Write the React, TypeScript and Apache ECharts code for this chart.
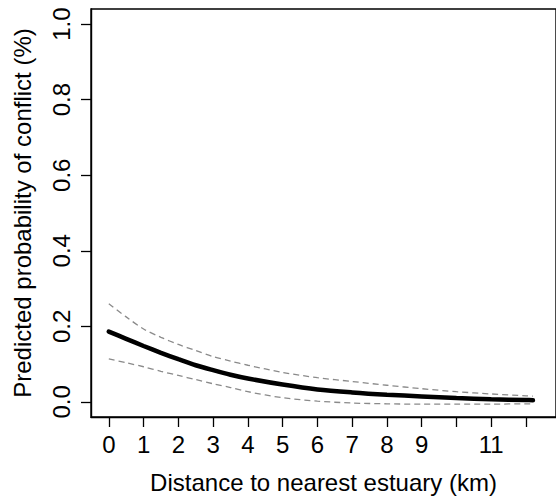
import React, { useEffect, useRef } from "react";
import * as echarts from "echarts";

const distance = [0, 0.5, 1, 1.5, 2, 2.5, 3, 3.5, 4, 5, 6, 7, 8, 9, 10, 11, 12, 12.2];
const fitted = [0.186, 0.167, 0.148, 0.130, 0.113, 0.097, 0.084, 0.072, 0.062, 0.046, 0.033, 0.025, 0.019, 0.0145, 0.010, 0.007, 0.005, 0.0045];
const upperCI = [0.260, 0.225, 0.193, 0.171, 0.152, 0.136, 0.120, 0.108, 0.097, 0.078, 0.064, 0.054, 0.044, 0.035, 0.027, 0.021, 0.016, 0.015];
const lowerCI = [0.114, 0.1035, 0.093, 0.081, 0.070, 0.059, 0.048, 0.038, 0.027, 0.011, 0.002, -0.003, -0.005, -0.006, -0.006, -0.006, -0.005, -0.005];

const xTicks = [0, 1, 2, 3, 4, 5, 6, 7, 8, 9, 10, 11, 12];
const xTickLabels = [0, 1, 2, 3, 4, 5, 6, 7, 8, 9, 11];
const yTicks = [0, 0.2, 0.4, 0.6, 0.8, 1.0];

const xTitle = "Distance to nearest estuary (km)";
const yTitle = "Predicted probability of conflict (%)";

const FONT = "'Liberation Sans', Arial, Helvetica, sans-serif";

export default function App() {
  const ref = useRef<HTMLDivElement>(null);
  useEffect(() => {
    if (!ref.current) return;
    const chart = echarts.init(ref.current, undefined, { renderer: "svg" });
    const pair = (ys: number[]) => distance.map((x, i) => [x, ys[i]]);
    const pxPerUnit = 35.14;
    const gridLeft = 91;
    const gridWidth = 470;
    const xMin = -(109 - gridLeft) / pxPerUnit;
    const xMax = xMin + gridWidth / pxPerUnit;
    chart.setOption({
      animation: false,
      backgroundColor: "#ffffff",
      grid: {
        left: gridLeft,
        top: 9,
        width: gridWidth,
        height: 408,
        show: true,
        borderColor: "#000",
        borderWidth: 1.4,
        backgroundColor: "transparent",
      },
      xAxis: {
        type: "value",
        min: xMin,
        max: xMax,
        name: xTitle,
        nameLocation: "middle",
        nameGap: 53,
        nameTextStyle: { fontFamily: FONT, fontSize: 24, color: "#000" },
        axisLine: { show: true, onZero: false, lineStyle: { color: "#000", width: 1.4 } },
        axisTick: {
          show: true,
          length: 10,
          customValues: xTicks,
          lineStyle: { color: "#000", width: 1.3 },
        },
        axisLabel: {
          show: true,
          customValues: xTickLabels,
          margin: 15,
          fontFamily: FONT,
          fontSize: 24,
          color: "#000",
        },
        splitLine: { show: false },
      },
      yAxis: {
        type: "value",
        min: -0.04,
        max: 1.04,
        name: yTitle,
        nameLocation: "middle",
        nameGap: 57,
        nameRotate: 90,
        nameTextStyle: { fontFamily: FONT, fontSize: 24, color: "#000" },
        axisLine: { show: true, onZero: false, lineStyle: { color: "#000", width: 1.4 } },
        axisTick: {
          show: true,
          length: 10,
          customValues: yTicks,
          lineStyle: { color: "#000", width: 1.3 },
        },
        axisLabel: {
          show: true,
          customValues: yTicks,
          rotate: 90,
          margin: 18,
          fontFamily: FONT,
          fontSize: 24,
          color: "#000",
          formatter: (v: number) => v.toFixed(1),
        },
        splitLine: { show: false },
      },
      series: [
        {
          type: "line",
          data: pair(upperCI),
          showSymbol: false,
          smooth: 0.3,
          lineStyle: { color: "#8a8a8a", width: 1.3, type: [6, 4] },
        },
        {
          type: "line",
          data: pair(lowerCI),
          showSymbol: false,
          smooth: 0.3,
          lineStyle: { color: "#8a8a8a", width: 1.3, type: [6, 4] },
        },
        {
          type: "line",
          data: pair(fitted),
          showSymbol: false,
          smooth: 0.3,
          lineStyle: { color: "#000", width: 4.5, cap: "round" },
        },
      ],
    });
    return () => chart.dispose();
  }, []);
  return (
    <div
      ref={ref}
      style={{ position: "fixed", left: 0, top: 0, width: 556, height: 502, background: "#fff" }}
    />
  );
}
